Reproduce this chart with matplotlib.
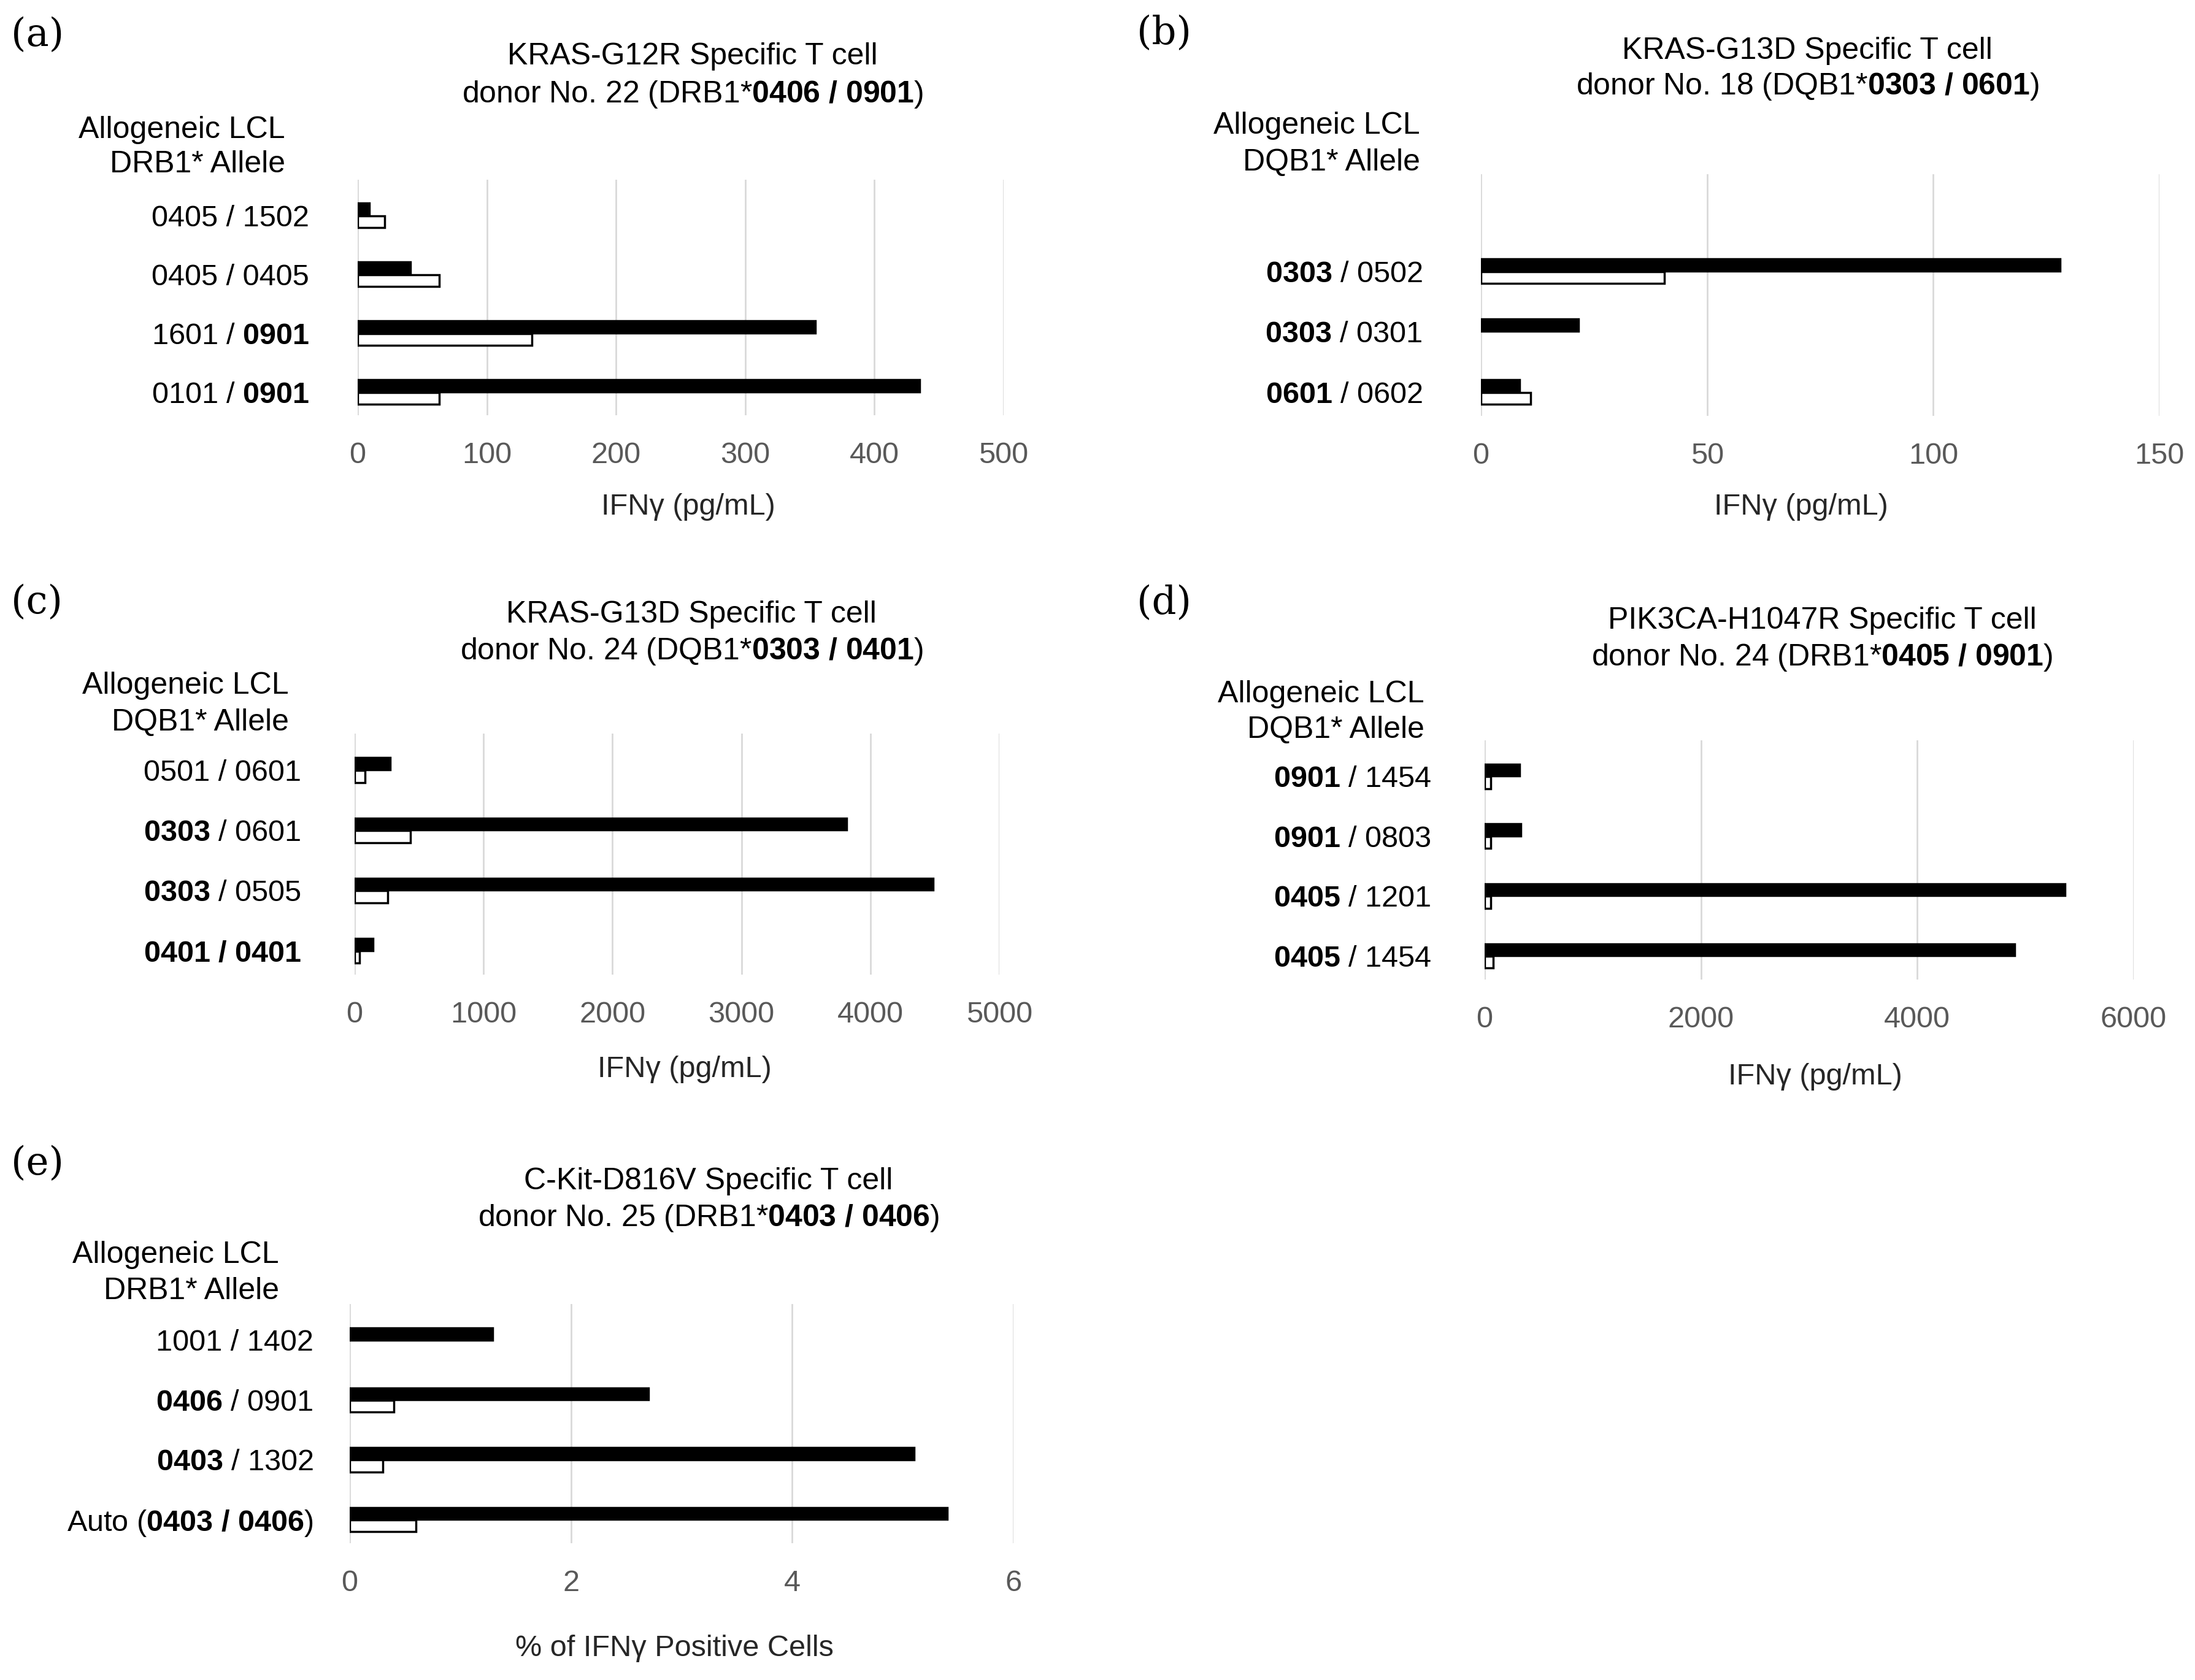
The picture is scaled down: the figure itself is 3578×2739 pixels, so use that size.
import matplotlib
matplotlib.use("Agg")
import matplotlib.pyplot as plt
import numpy as np

plt.rcParams['font.family'] = ['Liberation Sans', 'DejaVu Sans']
plt.rcParams['mathtext.fontset'] = 'custom'
plt.rcParams['mathtext.rm'] = 'Liberation Sans'
plt.rcParams['mathtext.bf'] = 'Liberation Sans:bold'
plt.rcParams['mathtext.it'] = 'Liberation Sans:italic'
plt.rcParams['mathtext.sf'] = 'Liberation Sans'

# ---------------- data ----------------
a_labels = ["0405 / 1502", "0405 / 0405", r"1601 / $\mathbf{0901}$", r"0101 / $\mathbf{0901}$"]
a_mut = [9, 41, 354, 435]
a_wt = [21, 63, 135, 63]
a_ticks = [0, 100, 200, 300, 400, 500]

b_labels = [r"$\mathbf{0303}$ / 0502", r"$\mathbf{0303}$ / 0301", r"$\mathbf{0601}$ / 0602"]
b_mut = [128, 21.5, 8.5]
b_wt = [40.5, 0, 11]
b_ticks = [0, 50, 100, 150]

c_labels = ["0501 / 0601", r"$\mathbf{0303}$ / 0601", r"$\mathbf{0303}$ / 0505", r"$\mathbf{0401\ /\ 0401}$"]
c_mut = [276, 3816, 4485, 143]
c_wt = [80, 435, 255, 37]
c_ticks = [0, 1000, 2000, 3000, 4000, 5000]

d_labels = [r"$\mathbf{0901}$ / 1454", r"$\mathbf{0901}$ / 0803", r"$\mathbf{0405}$ / 1201", r"$\mathbf{0405}$ / 1454"]
d_mut = [322, 334, 5363, 4900]
d_wt = [58, 58, 58, 77]
d_ticks = [0, 2000, 4000, 6000]

e_labels = ["1001 / 1402", r"$\mathbf{0406}$ / 0901", r"$\mathbf{0403}$ / 1302", r"Auto ($\mathbf{0403\ /\ 0406}$)"]
e_mut = [1.29, 2.70, 5.10, 5.40]
e_wt = [0, 0.40, 0.30, 0.60]
e_ticks = [0, 2, 4, 6]

titles = {
    'a': ["KRAS-G12R Specific T cell", r"donor No. 22 (DRB1*$\mathbf{0406\ /\ 0901}$)"],
    'b': ["KRAS-G13D Specific T cell", r"donor No. 18 (DQB1*$\mathbf{0303\ /\ 0601}$)"],
    'c': ["KRAS-G13D Specific T cell", r"donor No. 24 (DQB1*$\mathbf{0303\ /\ 0401}$)"],
    'd': ["PIK3CA-H1047R Specific T cell", r"donor No. 24 (DRB1*$\mathbf{0405\ /\ 0901}$)"],
    'e': ["C-Kit-D816V Specific T cell", r"donor No. 25 (DRB1*$\mathbf{0403\ /\ 0406}$)"],
}
headers = {
    'a': ["Allogeneic LCL", "DRB1* Allele"],
    'b': ["Allogeneic LCL", "DQB1* Allele"],
    'c': ["Allogeneic LCL", "DQB1* Allele"],
    'd': ["Allogeneic LCL", "DQB1* Allele"],
    'e': ["Allogeneic LCL", "DRB1* Allele"],
}
xlabels = {
    'a': "IFNγ (pg/mL)", 'b': "IFNγ (pg/mL)", 'c': "IFNγ (pg/mL)",
    'd': "IFNγ (pg/mL)", 'e': "% of IFNγ Positive Cells",
}

# ---------------- layout (pixels) ----------------
W, H = 3578, 2739
fig = plt.figure(figsize=(W / 100, H / 100), dpi=100)
fig.patch.set_facecolor('white')

def fx(x):
    return x / W

def fy(y):
    return 1 - y / H

layout = {
    'a': dict(box=(583, 1636, 293, 677), ypad=79, tx=1129, ty=(92, 154), lx=18, ly=58,
              hx=465, hy=(212, 268), xl=(1122, 827), off=0, nslots=4),
    'b': dict(box=(2414, 3520, 284, 678), ypad=95, tx=2946, ty=(83, 141), lx=1853, ly=55,
              hx=2315, hy=(205, 265), xl=(2936, 827), off=1, nslots=4),
    'c': dict(box=(578, 1629, 1196, 1589), ypad=87, tx=1127, ty=(1002, 1062), lx=18, ly=983,
              hx=471, hy=(1118, 1178), xl=(1116, 1744), off=0, nslots=4),
    'd': dict(box=(2420, 3478, 1207, 1597), ypad=87, tx=2970, ty=(1012, 1072), lx=1853, ly=984,
              hx=2322, hy=(1132, 1190), xl=(2959, 1755), off=0, nslots=4),
    'e': dict(box=(570, 1652, 2126, 2516), ypad=59, tx=1155, ty=(1926, 1986), lx=18, ly=1898,
              hx=455, hy=(2046, 2105), xl=(1099, 2687), off=0, nslots=4),
}

data = {
    'a': (a_labels, a_mut, a_wt, a_ticks),
    'b': (b_labels, b_mut, b_wt, b_ticks),
    'c': (c_labels, c_mut, c_wt, c_ticks),
    'd': (d_labels, d_mut, d_wt, d_ticks),
    'e': (e_labels, e_mut, e_wt, e_ticks),
}

FS = 35
BAR_H = 0.2
GAP = 0.21
LW = 2.5

for key in ['a', 'b', 'c', 'd', 'e']:
    labels, mut, wt, ticks = data[key]
    L = layout[key]
    left, right, top, bottom = L['box']
    ax = fig.add_axes([fx(left), fy(bottom), (right - left) / W, (bottom - top) / H])
    pos = np.arange(len(labels)) + L['off']
    ax.barh(pos, mut, height=BAR_H, color='black', edgecolor='black',
            linewidth=[LW if v > 0 else 0 for v in mut], zorder=3)
    ax.barh(pos + GAP, wt, height=BAR_H, color='white', edgecolor='black',
            linewidth=[LW if v > 0 else 0 for v in wt], zorder=3)
    ax.set_xlim(ticks[0], ticks[-1])
    ax.set_ylim(L['nslots'] - 0.5, -0.5)
    ax.set_xticks(ticks)
    ax.set_yticks(pos + GAP / 2, labels)
    ax.xaxis.grid(True, color='#D9D9D9', linewidth=2.0)
    ax.yaxis.grid(False)
    ax.set_axisbelow(True)
    for s in ax.spines.values():
        s.set_visible(False)
    ax.tick_params(axis='x', length=0, pad=31, labelsize=FS, labelcolor='#595959')
    ax.tick_params(axis='y', length=0, pad=L['ypad'] * 0.72, labelsize=FS, labelcolor='black')

    # titles
    fig.text(fx(L['tx']), fy(L['ty'][0]), titles[key][0], ha='center', va='center',
             fontsize=36, color='black')
    fig.text(fx(L['tx']), fy(L['ty'][1]), titles[key][1], ha='center', va='center',
             fontsize=36, color='black')
    # panel letter
    fig.text(fx(L['lx']), fy(L['ly']), f"({key})", ha='left', va='center',
             fontsize=45, family='DejaVu Serif', color='black')
    # header
    fig.text(fx(L['hx']), fy(L['hy'][0]), headers[key][0], ha='right', va='center',
             fontsize=36, color='black')
    fig.text(fx(L['hx']), fy(L['hy'][1]), headers[key][1], ha='right', va='center',
             fontsize=36, color='black')
    # x label
    fig.text(fx(L['xl'][0]), fy(L['xl'][1]), xlabels[key], ha='center', va='center',
             fontsize=FS, color='#262626')

fig.savefig("out.png", dpi=100, facecolor='white')
